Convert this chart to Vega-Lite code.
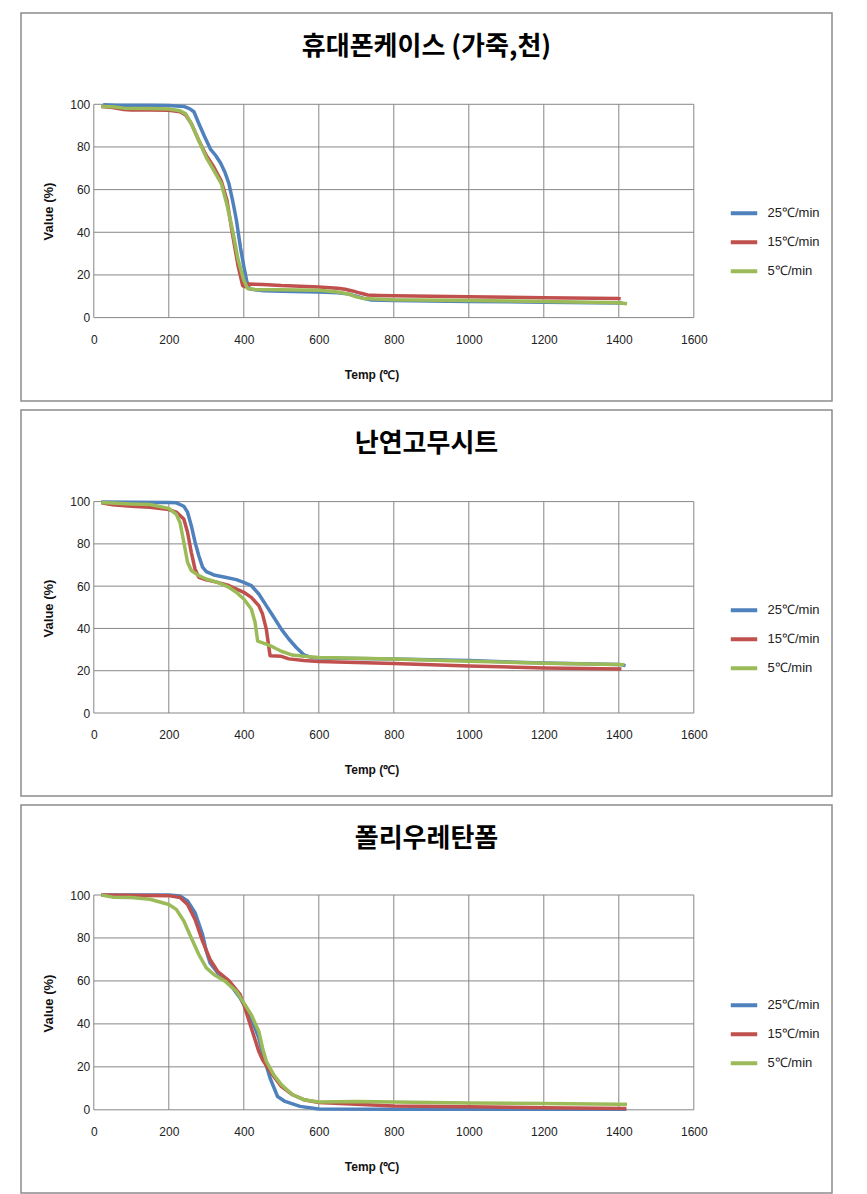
{
  "$schema": "https://vega.github.io/schema/vega-lite/v6.json",
  "background": "white",
  "padding": {"left": 20, "top": 12, "right": 0, "bottom": 0},
  "spacing": 7,
  "datasets": {
    "xg": [{"t": 0}, {"t": 200}, {"t": 400}, {"t": 600}, {"t": 800}, {"t": 1000}, {"t": 1200}, {"t": 1400}, {"t": 1600}],
    "yg": [{"v": 0}, {"v": 20}, {"v": 40}, {"v": 60}, {"v": 80}, {"v": 100}],
    "a": [
      {"s": "25℃/min", "t": 25, "v": 99.8}, {"s": "25℃/min", "t": 60, "v": 99.6}, {"s": "25℃/min", "t": 100, "v": 99.5}, {"s": "25℃/min", "t": 150, "v": 99.5}, {"s": "25℃/min", "t": 200, "v": 99.4}, {"s": "25℃/min", "t": 240, "v": 99}, {"s": "25℃/min", "t": 255, "v": 98}, {"s": "25℃/min", "t": 267, "v": 96.5}, {"s": "25℃/min", "t": 280, "v": 91}, {"s": "25℃/min", "t": 295, "v": 85}, {"s": "25℃/min", "t": 311, "v": 79}, {"s": "25℃/min", "t": 325, "v": 76}, {"s": "25℃/min", "t": 338, "v": 72.5}, {"s": "25℃/min", "t": 350, "v": 68}, {"s": "25℃/min", "t": 360, "v": 63}, {"s": "25℃/min", "t": 370, "v": 55}, {"s": "25℃/min", "t": 380, "v": 46}, {"s": "25℃/min", "t": 391, "v": 33}, {"s": "25℃/min", "t": 400, "v": 24}, {"s": "25℃/min", "t": 408, "v": 17}, {"s": "25℃/min", "t": 415, "v": 13.5}, {"s": "25℃/min", "t": 430, "v": 13}, {"s": "25℃/min", "t": 453, "v": 12.6}, {"s": "25℃/min", "t": 500, "v": 12.4}, {"s": "25℃/min", "t": 600, "v": 12}, {"s": "25℃/min", "t": 650, "v": 11.6}, {"s": "25℃/min", "t": 680, "v": 11}, {"s": "25℃/min", "t": 700, "v": 10}, {"s": "25℃/min", "t": 720, "v": 9}, {"s": "25℃/min", "t": 740, "v": 8.2}, {"s": "25℃/min", "t": 800, "v": 8}, {"s": "25℃/min", "t": 1000, "v": 7.6}, {"s": "25℃/min", "t": 1200, "v": 7.2}, {"s": "25℃/min", "t": 1400, "v": 6.8}, {"s": "25℃/min", "t": 1410, "v": 6.8},
      {"s": "15℃/min", "t": 20, "v": 99}, {"s": "15℃/min", "t": 50, "v": 98.5}, {"s": "15℃/min", "t": 80, "v": 97.5}, {"s": "15℃/min", "t": 100, "v": 97.3}, {"s": "15℃/min", "t": 150, "v": 97.3}, {"s": "15℃/min", "t": 200, "v": 97.2}, {"s": "15℃/min", "t": 230, "v": 96.5}, {"s": "15℃/min", "t": 245, "v": 95}, {"s": "15℃/min", "t": 260, "v": 91}, {"s": "15℃/min", "t": 280, "v": 83}, {"s": "15℃/min", "t": 300, "v": 76}, {"s": "15℃/min", "t": 320, "v": 70.6}, {"s": "15℃/min", "t": 340, "v": 64}, {"s": "15℃/min", "t": 355, "v": 55}, {"s": "15℃/min", "t": 370, "v": 39}, {"s": "15℃/min", "t": 385, "v": 24}, {"s": "15℃/min", "t": 397, "v": 15}, {"s": "15℃/min", "t": 403, "v": 14.5}, {"s": "15℃/min", "t": 410, "v": 15.8}, {"s": "15℃/min", "t": 450, "v": 15.5}, {"s": "15℃/min", "t": 500, "v": 15}, {"s": "15℃/min", "t": 600, "v": 14.4}, {"s": "15℃/min", "t": 650, "v": 13.8}, {"s": "15℃/min", "t": 670, "v": 13.3}, {"s": "15℃/min", "t": 690, "v": 12.5}, {"s": "15℃/min", "t": 710, "v": 11.5}, {"s": "15℃/min", "t": 730, "v": 10.6}, {"s": "15℃/min", "t": 760, "v": 10.4}, {"s": "15℃/min", "t": 800, "v": 10.2}, {"s": "15℃/min", "t": 1000, "v": 9.8}, {"s": "15℃/min", "t": 1200, "v": 9.3}, {"s": "15℃/min", "t": 1400, "v": 8.9}, {"s": "15℃/min", "t": 1405, "v": 8.8},
      {"s": "5℃/min", "t": 20, "v": 99}, {"s": "5℃/min", "t": 50, "v": 98.8}, {"s": "5℃/min", "t": 80, "v": 98.2}, {"s": "5℃/min", "t": 150, "v": 98}, {"s": "5℃/min", "t": 200, "v": 97.8}, {"s": "5℃/min", "t": 230, "v": 97}, {"s": "5℃/min", "t": 245, "v": 95.5}, {"s": "5℃/min", "t": 260, "v": 91}, {"s": "5℃/min", "t": 280, "v": 83}, {"s": "5℃/min", "t": 300, "v": 75}, {"s": "5℃/min", "t": 320, "v": 69}, {"s": "5℃/min", "t": 340, "v": 62.8}, {"s": "5℃/min", "t": 355, "v": 53}, {"s": "5℃/min", "t": 370, "v": 41}, {"s": "5℃/min", "t": 385, "v": 27}, {"s": "5℃/min", "t": 400, "v": 17.5}, {"s": "5℃/min", "t": 410, "v": 13.6}, {"s": "5℃/min", "t": 430, "v": 13.2}, {"s": "5℃/min", "t": 500, "v": 13}, {"s": "5℃/min", "t": 600, "v": 12.8}, {"s": "5℃/min", "t": 650, "v": 12}, {"s": "5℃/min", "t": 680, "v": 11}, {"s": "5℃/min", "t": 700, "v": 9.7}, {"s": "5℃/min", "t": 720, "v": 8.9}, {"s": "5℃/min", "t": 800, "v": 8.4}, {"s": "5℃/min", "t": 1000, "v": 8}, {"s": "5℃/min", "t": 1200, "v": 7.5}, {"s": "5℃/min", "t": 1400, "v": 7}, {"s": "5℃/min", "t": 1422, "v": 6.5}
    ],
    "b": [
      {"s": "25℃/min", "t": 20, "v": 99.8}, {"s": "25℃/min", "t": 100, "v": 99.7}, {"s": "25℃/min", "t": 200, "v": 99.6}, {"s": "25℃/min", "t": 220, "v": 99.4}, {"s": "25℃/min", "t": 240, "v": 97.8}, {"s": "25℃/min", "t": 250, "v": 95}, {"s": "25℃/min", "t": 260, "v": 88.6}, {"s": "25℃/min", "t": 270, "v": 80.8}, {"s": "25℃/min", "t": 280, "v": 74.4}, {"s": "25℃/min", "t": 290, "v": 69}, {"s": "25℃/min", "t": 300, "v": 66.9}, {"s": "25℃/min", "t": 320, "v": 65.3}, {"s": "25℃/min", "t": 350, "v": 64.2}, {"s": "25℃/min", "t": 380, "v": 63.1}, {"s": "25℃/min", "t": 400, "v": 61.8}, {"s": "25℃/min", "t": 420, "v": 60.3}, {"s": "25℃/min", "t": 440, "v": 56.3}, {"s": "25℃/min", "t": 460, "v": 50.8}, {"s": "25℃/min", "t": 480, "v": 45.3}, {"s": "25℃/min", "t": 500, "v": 39.7}, {"s": "25℃/min", "t": 520, "v": 35}, {"s": "25℃/min", "t": 540, "v": 31}, {"s": "25℃/min", "t": 560, "v": 27.5}, {"s": "25℃/min", "t": 580, "v": 26.3}, {"s": "25℃/min", "t": 600, "v": 26}, {"s": "25℃/min", "t": 800, "v": 25.6}, {"s": "25℃/min", "t": 1000, "v": 24.8}, {"s": "25℃/min", "t": 1200, "v": 23.6}, {"s": "25℃/min", "t": 1400, "v": 23}, {"s": "25℃/min", "t": 1418, "v": 22.4},
      {"s": "15℃/min", "t": 20, "v": 99.5}, {"s": "15℃/min", "t": 50, "v": 98.5}, {"s": "15℃/min", "t": 100, "v": 97.8}, {"s": "15℃/min", "t": 150, "v": 97.3}, {"s": "15℃/min", "t": 200, "v": 96.2}, {"s": "15℃/min", "t": 220, "v": 95}, {"s": "15℃/min", "t": 240, "v": 91.8}, {"s": "15℃/min", "t": 250, "v": 85.5}, {"s": "15℃/min", "t": 260, "v": 76}, {"s": "15℃/min", "t": 270, "v": 68}, {"s": "15℃/min", "t": 280, "v": 64.2}, {"s": "15℃/min", "t": 300, "v": 63}, {"s": "15℃/min", "t": 330, "v": 61.8}, {"s": "15℃/min", "t": 360, "v": 60.3}, {"s": "15℃/min", "t": 400, "v": 57.1}, {"s": "15℃/min", "t": 420, "v": 54.7}, {"s": "15℃/min", "t": 440, "v": 50.8}, {"s": "15℃/min", "t": 450, "v": 46.8}, {"s": "15℃/min", "t": 460, "v": 39.7}, {"s": "15℃/min", "t": 470, "v": 27.1}, {"s": "15℃/min", "t": 500, "v": 26.8}, {"s": "15℃/min", "t": 520, "v": 25.6}, {"s": "15℃/min", "t": 560, "v": 24.8}, {"s": "15℃/min", "t": 600, "v": 24.4}, {"s": "15℃/min", "t": 800, "v": 23.4}, {"s": "15℃/min", "t": 1000, "v": 22.2}, {"s": "15℃/min", "t": 1200, "v": 21.3}, {"s": "15℃/min", "t": 1407, "v": 20.8},
      {"s": "5℃/min", "t": 20, "v": 99.6}, {"s": "5℃/min", "t": 100, "v": 98.9}, {"s": "5℃/min", "t": 150, "v": 98.6}, {"s": "5℃/min", "t": 200, "v": 96.8}, {"s": "5℃/min", "t": 220, "v": 94}, {"s": "5℃/min", "t": 230, "v": 90}, {"s": "5℃/min", "t": 240, "v": 80.8}, {"s": "5℃/min", "t": 250, "v": 71.3}, {"s": "5℃/min", "t": 260, "v": 67.4}, {"s": "5℃/min", "t": 280, "v": 65}, {"s": "5℃/min", "t": 300, "v": 63.4}, {"s": "5℃/min", "t": 330, "v": 61.8}, {"s": "5℃/min", "t": 360, "v": 59.5}, {"s": "5℃/min", "t": 380, "v": 57.1}, {"s": "5℃/min", "t": 400, "v": 53.9}, {"s": "5℃/min", "t": 420, "v": 49.2}, {"s": "5℃/min", "t": 430, "v": 42.9}, {"s": "5℃/min", "t": 437, "v": 34}, {"s": "5℃/min", "t": 460, "v": 32.6}, {"s": "5℃/min", "t": 480, "v": 31}, {"s": "5℃/min", "t": 500, "v": 29.2}, {"s": "5℃/min", "t": 530, "v": 27.4}, {"s": "5℃/min", "t": 560, "v": 26.8}, {"s": "5℃/min", "t": 600, "v": 26.3}, {"s": "5℃/min", "t": 800, "v": 25.5}, {"s": "5℃/min", "t": 1000, "v": 24.5}, {"s": "5℃/min", "t": 1200, "v": 23.5}, {"s": "5℃/min", "t": 1400, "v": 23}, {"s": "5℃/min", "t": 1415, "v": 22.8}
    ],
    "c": [
      {"s": "25℃/min", "t": 20, "v": 100}, {"s": "25℃/min", "t": 200, "v": 100}, {"s": "25℃/min", "t": 230, "v": 99.5}, {"s": "25℃/min", "t": 250, "v": 97.2}, {"s": "25℃/min", "t": 270, "v": 91.8}, {"s": "25℃/min", "t": 290, "v": 81.6}, {"s": "25℃/min", "t": 300, "v": 73.9}, {"s": "25℃/min", "t": 310, "v": 68.4}, {"s": "25℃/min", "t": 330, "v": 63.8}, {"s": "25℃/min", "t": 350, "v": 60.7}, {"s": "25℃/min", "t": 370, "v": 56.8}, {"s": "25℃/min", "t": 390, "v": 52.1}, {"s": "25℃/min", "t": 410, "v": 45.9}, {"s": "25℃/min", "t": 430, "v": 38.1}, {"s": "25℃/min", "t": 440, "v": 33.4}, {"s": "25℃/min", "t": 450, "v": 26.4}, {"s": "25℃/min", "t": 470, "v": 14.8}, {"s": "25℃/min", "t": 490, "v": 6.2}, {"s": "25℃/min", "t": 510, "v": 3.9}, {"s": "25℃/min", "t": 550, "v": 1.6}, {"s": "25℃/min", "t": 600, "v": 0.4}, {"s": "25℃/min", "t": 800, "v": 0.3}, {"s": "25℃/min", "t": 1000, "v": 0.3}, {"s": "25℃/min", "t": 1200, "v": 0.3}, {"s": "25℃/min", "t": 1420, "v": 0.3},
      {"s": "15℃/min", "t": 20, "v": 100}, {"s": "15℃/min", "t": 200, "v": 99.7}, {"s": "15℃/min", "t": 230, "v": 98.8}, {"s": "15℃/min", "t": 250, "v": 95.6}, {"s": "15℃/min", "t": 270, "v": 88.6}, {"s": "15℃/min", "t": 290, "v": 78.5}, {"s": "15℃/min", "t": 310, "v": 70}, {"s": "15℃/min", "t": 330, "v": 64.5}, {"s": "15℃/min", "t": 360, "v": 60.2}, {"s": "15℃/min", "t": 390, "v": 53.7}, {"s": "15℃/min", "t": 400, "v": 49}, {"s": "15℃/min", "t": 420, "v": 38.1}, {"s": "15℃/min", "t": 440, "v": 27.2}, {"s": "15℃/min", "t": 450, "v": 23.3}, {"s": "15℃/min", "t": 470, "v": 17.9}, {"s": "15℃/min", "t": 500, "v": 10.9}, {"s": "15℃/min", "t": 530, "v": 7}, {"s": "15℃/min", "t": 560, "v": 4.7}, {"s": "15℃/min", "t": 600, "v": 3.4}, {"s": "15℃/min", "t": 800, "v": 1.8}, {"s": "15℃/min", "t": 1000, "v": 1.4}, {"s": "15℃/min", "t": 1200, "v": 1}, {"s": "15℃/min", "t": 1420, "v": 0.6},
      {"s": "5℃/min", "t": 20, "v": 100}, {"s": "5℃/min", "t": 50, "v": 99}, {"s": "5℃/min", "t": 100, "v": 98.8}, {"s": "5℃/min", "t": 150, "v": 98}, {"s": "5℃/min", "t": 200, "v": 95.6}, {"s": "5℃/min", "t": 220, "v": 93.3}, {"s": "5℃/min", "t": 240, "v": 87.9}, {"s": "5℃/min", "t": 260, "v": 80}, {"s": "5℃/min", "t": 280, "v": 72.3}, {"s": "5℃/min", "t": 300, "v": 66.1}, {"s": "5℃/min", "t": 320, "v": 63}, {"s": "5℃/min", "t": 350, "v": 59.9}, {"s": "5℃/min", "t": 380, "v": 55.2}, {"s": "5℃/min", "t": 400, "v": 49.8}, {"s": "5℃/min", "t": 420, "v": 44.3}, {"s": "5℃/min", "t": 440, "v": 36.5}, {"s": "5℃/min", "t": 450, "v": 28.8}, {"s": "5℃/min", "t": 460, "v": 22.6}, {"s": "5℃/min", "t": 480, "v": 16.3}, {"s": "5℃/min", "t": 500, "v": 11.7}, {"s": "5℃/min", "t": 530, "v": 7}, {"s": "5℃/min", "t": 560, "v": 4.7}, {"s": "5℃/min", "t": 600, "v": 3.6}, {"s": "5℃/min", "t": 700, "v": 3.9}, {"s": "5℃/min", "t": 800, "v": 3.6}, {"s": "5℃/min", "t": 1000, "v": 3.2}, {"s": "5℃/min", "t": 1200, "v": 2.9}, {"s": "5℃/min", "t": 1400, "v": 2.6}, {"s": "5℃/min", "t": 1422, "v": 2.6}
    ]
  },
  "vconcat": [
    {
      "width": 811, "height": 388,
      "title": {"text": "휴대폰케이스 (가죽,천)"},
      "layer": [
        {"data": {"name": "yg"}, "mark": {"type": "rule", "color": "#878787", "strokeWidth": 1},
         "encoding": {"y": {"field": "v", "type": "quantitative", "scale": {"domain": [-39.1, 142.8], "nice": false, "zero": false}, "title": "Value  (%)", "axis": {"values": [0, 20, 40, 60, 80, 100], "format": "d"}},
                      "x": {"datum": 0, "type": "quantitative", "scale": {"domain": [-194.13, 1968.5], "nice": false, "zero": false}, "axis": {"values": [0, 200, 400, 600, 800, 1000, 1200, 1400, 1600], "format": "d"}}, "x2": {"datum": 1600}}},
        {"data": {"name": "xg"}, "mark": {"type": "rule", "color": "#878787", "strokeWidth": 1},
         "encoding": {"x": {"field": "t", "type": "quantitative", "scale": {"domain": [-194.13, 1968.5], "nice": false, "zero": false}, "title": "Temp (℃)", "axis": {"values": [0, 200, 400, 600, 800, 1000, 1200, 1400, 1600], "format": "d"}},
                      "y": {"datum": 0, "type": "quantitative", "scale": {"domain": [-39.1, 142.8], "nice": false, "zero": false}, "axis": {"values": [0, 20, 40, 60, 80, 100], "format": "d"}}, "y2": {"datum": 100}}},
        {"data": {"name": "a"}, "mark": {"type": "line", "strokeWidth": 3.5, "strokeJoin": "round"},
         "encoding": {"x": {"field": "t", "type": "quantitative", "scale": {"domain": [-194.13, 1968.5], "nice": false, "zero": false}, "title": "Temp (℃)", "axis": {"values": [0, 200, 400, 600, 800, 1000, 1200, 1400, 1600], "format": "d"}},
                      "y": {"field": "v", "type": "quantitative", "scale": {"domain": [-39.1, 142.8], "nice": false, "zero": false}, "title": "Value  (%)", "axis": {"values": [0, 20, 40, 60, 80, 100], "format": "d"}},
                      "color": {"field": "s", "type": "nominal", "scale": {"domain": ["25℃/min", "15℃/min", "5℃/min"], "range": ["#4F81BD", "#C0504D", "#9BBB59"]}, "legend": {"title": null}}}}
      ]
    },
    {
      "width": 811, "height": 386,
      "title": {"text": "난연고무시트"},
      "layer": [
        {"data": {"name": "yg"}, "mark": {"type": "rule", "color": "#878787", "strokeWidth": 1},
         "encoding": {"y": {"field": "v", "type": "quantitative", "scale": {"domain": [-39.26, 143.33], "nice": false, "zero": false}, "title": "Value  (%)", "axis": {"values": [0, 20, 40, 60, 80, 100], "format": "d"}},
                      "x": {"datum": 0, "type": "quantitative", "scale": {"domain": [-194.13, 1968.5], "nice": false, "zero": false}, "axis": {"values": [0, 200, 400, 600, 800, 1000, 1200, 1400, 1600], "format": "d"}}, "x2": {"datum": 1600}}},
        {"data": {"name": "xg"}, "mark": {"type": "rule", "color": "#878787", "strokeWidth": 1},
         "encoding": {"x": {"field": "t", "type": "quantitative", "scale": {"domain": [-194.13, 1968.5], "nice": false, "zero": false}, "title": "Temp (℃)", "axis": {"values": [0, 200, 400, 600, 800, 1000, 1200, 1400, 1600], "format": "d"}},
                      "y": {"datum": 0, "type": "quantitative", "scale": {"domain": [-39.26, 143.33], "nice": false, "zero": false}, "axis": {"values": [0, 20, 40, 60, 80, 100], "format": "d"}}, "y2": {"datum": 100}}},
        {"data": {"name": "b"}, "mark": {"type": "line", "strokeWidth": 3.5, "strokeJoin": "round"},
         "encoding": {"x": {"field": "t", "type": "quantitative", "scale": {"domain": [-194.13, 1968.5], "nice": false, "zero": false}, "title": "Temp (℃)", "axis": {"values": [0, 200, 400, 600, 800, 1000, 1200, 1400, 1600], "format": "d"}},
                      "y": {"field": "v", "type": "quantitative", "scale": {"domain": [-39.26, 143.33], "nice": false, "zero": false}, "title": "Value  (%)", "axis": {"values": [0, 20, 40, 60, 80, 100], "format": "d"}},
                      "color": {"field": "s", "type": "nominal", "scale": {"domain": ["25℃/min", "15℃/min", "5℃/min"], "range": ["#4F81BD", "#C0504D", "#9BBB59"]}, "legend": {"title": null}}}}
      ]
    },
    {
      "width": 811, "height": 388,
      "title": {"text": "폴리우레탄폼"},
      "layer": [
        {"data": {"name": "yg"}, "mark": {"type": "rule", "color": "#878787", "strokeWidth": 1},
         "encoding": {"y": {"field": "v", "type": "quantitative", "scale": {"domain": [-38.73, 141.9], "nice": false, "zero": false}, "title": "Value  (%)", "axis": {"values": [0, 20, 40, 60, 80, 100], "format": "d"}},
                      "x": {"datum": 0, "type": "quantitative", "scale": {"domain": [-194.13, 1968.5], "nice": false, "zero": false}, "axis": {"values": [0, 200, 400, 600, 800, 1000, 1200, 1400, 1600], "format": "d"}}, "x2": {"datum": 1600}}},
        {"data": {"name": "xg"}, "mark": {"type": "rule", "color": "#878787", "strokeWidth": 1},
         "encoding": {"x": {"field": "t", "type": "quantitative", "scale": {"domain": [-194.13, 1968.5], "nice": false, "zero": false}, "title": "Temp (℃)", "axis": {"values": [0, 200, 400, 600, 800, 1000, 1200, 1400, 1600], "format": "d"}},
                      "y": {"datum": 0, "type": "quantitative", "scale": {"domain": [-38.73, 141.9], "nice": false, "zero": false}, "axis": {"values": [0, 20, 40, 60, 80, 100], "format": "d"}}, "y2": {"datum": 100}}},
        {"data": {"name": "c"}, "mark": {"type": "line", "strokeWidth": 3.5, "strokeJoin": "round"},
         "encoding": {"x": {"field": "t", "type": "quantitative", "scale": {"domain": [-194.13, 1968.5], "nice": false, "zero": false}, "title": "Temp (℃)", "axis": {"values": [0, 200, 400, 600, 800, 1000, 1200, 1400, 1600], "format": "d"}},
                      "y": {"field": "v", "type": "quantitative", "scale": {"domain": [-38.73, 141.9], "nice": false, "zero": false}, "title": "Value  (%)", "axis": {"values": [0, 20, 40, 60, 80, 100], "format": "d"}},
                      "color": {"field": "s", "type": "nominal", "scale": {"domain": ["25℃/min", "15℃/min", "5℃/min"], "range": ["#4F81BD", "#C0504D", "#9BBB59"]}, "legend": {"title": null}}}}
      ]
    }
  ],
  "resolve": {
    "scale": {"x": "independent", "y": "independent", "color": "independent"},
    "legend": {"color": "independent"},
    "axis": {"x": "independent", "y": "independent"}
  },
  "config": {
    "view": {"stroke": "#8c8c8c", "strokeWidth": 1.5},
    "title": {"fontSize": 26, "font": "Noto Sans CJK KR", "fontWeight": "bold", "anchor": "middle", "frame": "group", "offset": -47, "baseline": "middle", "color": "#000000"},
    "axisX": {"offset": -83, "domain": false, "ticks": false, "tickSize": 0, "grid": false, "labelPadding": 16, "labelFontSize": 12, "labelFont": "Liberation Sans", "labelColor": "#222222", "labelFlush": false, "labelOverlap": false, "titleX": 350.5, "titleY": 56, "titleFontSize": 12, "titleFontWeight": "bold", "titleFont": "Liberation Sans", "titleColor": "#111111", "titleBaseline": "middle", "titleAlign": "center"},
    "axisY": {"offset": -72.8, "domain": false, "ticks": false, "tickSize": 0, "grid": false, "labelPadding": 4, "labelFontSize": 12, "labelFont": "Liberation Sans", "labelColor": "#222222", "labelFlush": false, "labelOverlap": false, "titleX": -45, "titleY": 198, "titleAngle": -90, "titleFontSize": 13, "titleFontWeight": "bold", "titleFont": "Liberation Sans", "titleColor": "#111111", "titleBaseline": "middle", "titleAlign": "center"},
    "legend": {"orient": "none", "legendX": 707.5, "legendY": 184.75, "symbolType": "stroke", "symbolSize": 700, "symbolStrokeWidth": 4, "labelFontSize": 13, "labelFont": "Liberation Sans", "labelColor": "#222222", "labelOffset": 8, "rowPadding": 5, "padding": 0, "offset": 0}
  }
}
